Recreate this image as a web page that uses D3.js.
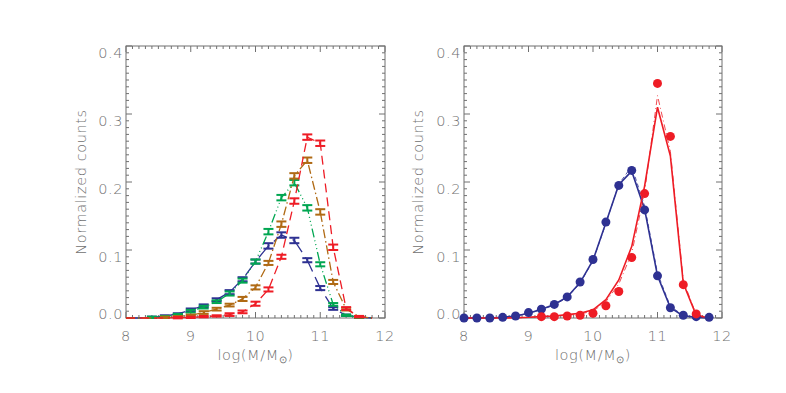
<!DOCTYPE html>
<html>
<head>
<meta charset="utf-8">
<script src="https://cdnjs.cloudflare.com/ajax/libs/d3/7.8.5/d3.min.js"></script>
<style>
	body { margin: 0; background: #fff; }
	svg { display: block; }
	text { font-family: "DejaVu Sans", sans-serif; font-weight: 200; fill: #707070; letter-spacing: 0.6px; }
</style>
</head>
<body>
<div id="container"></div>
<script>
const width = 786;
const height = 393;

// mass bins (log M / Msun)
const bins = [8.0, 8.2, 8.4, 8.6, 8.8, 9.0, 9.2, 9.4, 9.6, 9.8,
	10.0, 10.2, 10.4, 10.6, 10.8, 11.0, 11.2, 11.4, 11.6, 11.8];

// left panel
const blueLeft  = [0, 0, 0.001, 0.003, 0.006, 0.012, 0.018, 0.027, 0.038, 0.057, 0.083, 0.106, 0.122, 0.114, 0.085, 0.044, 0.014, 0.004, 0.001, 0];
const greenLeft = [0, 0, 0.001, 0.002, 0.005, 0.010, 0.016, 0.024, 0.036, 0.055, 0.083, 0.127, 0.177, 0.199, 0.162, 0.079, 0.020, 0.004, 0.001, 0];
const brownLeft = [0, 0, 0, 0.001, 0.002, 0.004, 0.008, 0.013, 0.019, 0.028, 0.045, 0.081, 0.138, 0.209, 0.232, 0.156, 0.053, 0.013, 0.002, 0];
const redLeft   = [0, 0, 0, 0, 0.0005, 0.001, 0.002, 0.003, 0.005, 0.009, 0.021, 0.042, 0.090, 0.172, 0.266, 0.257, 0.104, 0.014, 0.002, 0];
// error bar half sizes
const blueErr  = [0, 0, 0.001, 0.001, 0.001, 0.002, 0.002, 0.002, 0.003, 0.003, 0.003, 0.004, 0.004, 0.004, 0.003, 0.003, 0.002, 0.001, 0.001, 0];
const greenErr = [0, 0, 0.001, 0.001, 0.001, 0.002, 0.002, 0.002, 0.003, 0.003, 0.003, 0.004, 0.004, 0.004, 0.004, 0.003, 0.002, 0.001, 0.001, 0];
const brownErr = [0, 0, 0, 0.001, 0.001, 0.001, 0.002, 0.002, 0.002, 0.003, 0.003, 0.003, 0.004, 0.004, 0.004, 0.004, 0.003, 0.002, 0.001, 0];
const redErr   = [0, 0, 0, 0, 0.001, 0.001, 0.001, 0.001, 0.002, 0.002, 0.003, 0.003, 0.003, 0.004, 0.004, 0.004, 0.004, 0.002, 0.001, 0];

// right panel
const blueObs    = [0, 0, 0, 0.001, 0.003, 0.008, 0.013, 0.020, 0.031, 0.053, 0.086, 0.141, 0.195, 0.217, 0.159, 0.062, 0.015, 0.004, 0.002, 0.001];
const blueModel  = [0, 0, 0, 0.001, 0.003, 0.007, 0.013, 0.020, 0.031, 0.052, 0.085, 0.140, 0.196, 0.216, 0.160, 0.062, 0.015, 0.003, 0.001, 0];
const blueModel2 = [0, 0, 0, 0.001, 0.003, 0.007, 0.012, 0.019, 0.030, 0.051, 0.084, 0.139, 0.197, 0.223, 0.165, 0.066, 0.017, 0.004, 0.001, 0];
const redObs     = [null, null, null, null, null, null, 0.002, 0.002, 0.003, 0.004, 0.007, 0.018, 0.039, 0.089, 0.183, 0.345, 0.267, 0.049, 0.006, null];
const redModel   = [0, 0, 0, 0, 0.0005, 0.001, 0.002, 0.003, 0.005, 0.007, 0.012, 0.027, 0.056, 0.105, 0.194, 0.310, 0.238, 0.051, 0.004, 0];
const redModel2  = [0, 0, 0, 0, 0, 0.001, 0.002, 0.003, 0.004, 0.006, 0.010, 0.024, 0.050, 0.095, 0.185, 0.327, 0.245, 0.055, 0.005, 0];

const xTicks = [8, 9, 10, 11, 12];
const yTicks = [0.0, 0.1, 0.2, 0.3, 0.4];

const colors = {
	blue: "#2e3192",
	green: "#00a651",
	brown: "#b06a14",
	red: "#ee1c25"
};
const axisColor = "#707070";

let svg = d3.select("#container")
	.append("svg")
	.attr("width", width)
	.attr("height", height);

svg.append("rect").attr("width", width).attr("height", height).attr("fill", "#fff");

// panel frames
const panels = [
	{ left: 126, right: 385, top: 46, bottom: 318, ylabelX: 81 },
	{ left: 464, right: 722, top: 46, bottom: 318, ylabelX: 418 }
];

function drawFrame(p) {
	const x = d3.scaleLinear().domain([8, 12]).range([p.left, p.right]);
	const y = d3.scaleLinear().domain([0, 0.4]).range([p.bottom, p.top]);
	const g = svg.append("g");

	// minor / major ticks on all four sides, pointing inward
	const xMinor = d3.range(80, 121).map(d => d / 10);
	const yMinor = d3.range(0, 41).map(d => d / 100);
	xMinor.forEach(function(v) {
		let major = Math.abs(v - Math.round(v)) < 1e-6;
		let len = major ? 6 : 3;
		g.append("line").attr("x1", x(v)).attr("x2", x(v))
			.attr("y1", p.bottom).attr("y2", p.bottom - len);
		g.append("line").attr("x1", x(v)).attr("x2", x(v))
			.attr("y1", p.top).attr("y2", p.top + len);
	});
	yMinor.forEach(function(v) {
		let major = Math.abs(v * 10 - Math.round(v * 10)) < 1e-6;
		let len = major ? 6 : 3;
		g.append("line").attr("x1", p.left).attr("x2", p.left + len)
			.attr("y1", y(v)).attr("y2", y(v));
		g.append("line").attr("x1", p.right).attr("x2", p.right - len)
			.attr("y1", y(v)).attr("y2", y(v));
	});
	g.selectAll("line").attr("stroke", axisColor).attr("stroke-width", 1);

	g.append("rect")
		.attr("x", p.left).attr("y", p.top)
		.attr("width", p.right - p.left).attr("height", p.bottom - p.top)
		.attr("fill", "none").attr("stroke", axisColor).attr("stroke-width", 1);

	// tick labels
	g.selectAll(".xlab").data(xTicks).enter().append("text")
		.attr("x", d => x(d)).attr("y", p.bottom + 23)
		.attr("text-anchor", "middle").attr("font-size", 14.5)
		.text(d => d);
	g.selectAll(".ylab").data(yTicks).enter().append("text")
		.attr("x", p.left - 3).attr("y", d => y(d) + (d === 0 ? 1 : 12))
		.attr("text-anchor", "end").attr("font-size", 14.5)
		.text(d => d3.format(".1f")(d));

	// axis titles
	let xt = g.append("text")
		.attr("x", (p.left + p.right) / 2).attr("y", p.bottom + 42)
		.attr("text-anchor", "middle").attr("font-size", 14.5);
	xt.append("tspan").text("log(M/M");
	xt.append("tspan").attr("font-size", 10).attr("dy", 3).text("\u2299");
	xt.append("tspan").attr("dy", -3).text(")");

	g.append("text")
		.attr("transform", "translate(" + p.ylabelX + "," + ((p.top + p.bottom) / 2) + ") rotate(-90)")
		.attr("text-anchor", "middle").attr("dy", "0.35em").attr("font-size", 14.5)
		.text("Normalized counts");

	return { x: x, y: y };
}

function drawLine(s, values, color, dash, w) {
	let line = d3.line()
		.defined(d => d[1] !== null)
		.x(d => s.x(d[0]))
		.y(d => s.y(d[1]));
	svg.append("path")
		.datum(bins.map((b, i) => [b, values[i]]))
		.attr("d", line)
		.attr("fill", "none")
		.attr("stroke", color)
		.attr("stroke-width", w)
		.attr("stroke-dasharray", dash);
}

function drawErrors(s, values, errs, color) {
	let g = svg.append("g").attr("stroke", color).attr("stroke-width", 2);
	bins.forEach(function(b, i) {
		if (!values[i]) return;
		let cx = s.x(b);
		let y1 = s.y(values[i] + errs[i]);
		let y2 = s.y(values[i] - errs[i]);
		g.append("line").attr("x1", cx).attr("x2", cx).attr("y1", y1).attr("y2", y2);
		g.append("line").attr("x1", cx - 5).attr("x2", cx + 5).attr("y1", y1).attr("y2", y1);
		g.append("line").attr("x1", cx - 5).attr("x2", cx + 5).attr("y1", y2).attr("y2", y2);
	});
}

// Left panel
const sL = drawFrame(panels[0]);
drawLine(sL, blueLeft, colors.blue, "16,6", 1.3);
drawErrors(sL, blueLeft, blueErr, colors.blue);
drawLine(sL, greenLeft, colors.green, "9,3,1,3,1,3,1,3", 1.3);
drawErrors(sL, greenLeft, greenErr, colors.green);
drawLine(sL, brownLeft, colors.brown, "9,3,1.5,3", 1.3);
drawErrors(sL, brownLeft, brownErr, colors.brown);
drawLine(sL, redLeft, colors.red, "9,5", 1.3);
drawErrors(sL, redLeft, redErr, colors.red);

// Right panel
const sR = drawFrame(panels[1]);
drawLine(sR, blueModel2, colors.blue, "4,3", 0.8);
drawLine(sR, blueModel, colors.blue, null, 1.6);
drawLine(sR, redModel2, colors.red, "6,3,1,3", 0.8);
drawLine(sR, redModel, colors.red, null, 1.6);

svg.append("g").selectAll("circle")
	.data(bins.map((b, i) => [b, blueObs[i]]))
	.enter().append("circle")
	.attr("cx", d => sR.x(d[0]))
	.attr("cy", d => sR.y(d[1]))
	.attr("r", 4.5)
	.attr("fill", colors.blue);

svg.append("g").selectAll("circle")
	.data(bins.map((b, i) => [b, redObs[i]]).filter(d => d[1] !== null))
	.enter().append("circle")
	.attr("cx", d => sR.x(d[0]))
	.attr("cy", d => sR.y(d[1]))
	.attr("r", 4.5)
	.attr("fill", colors.red);
</script>
</body>
</html>
